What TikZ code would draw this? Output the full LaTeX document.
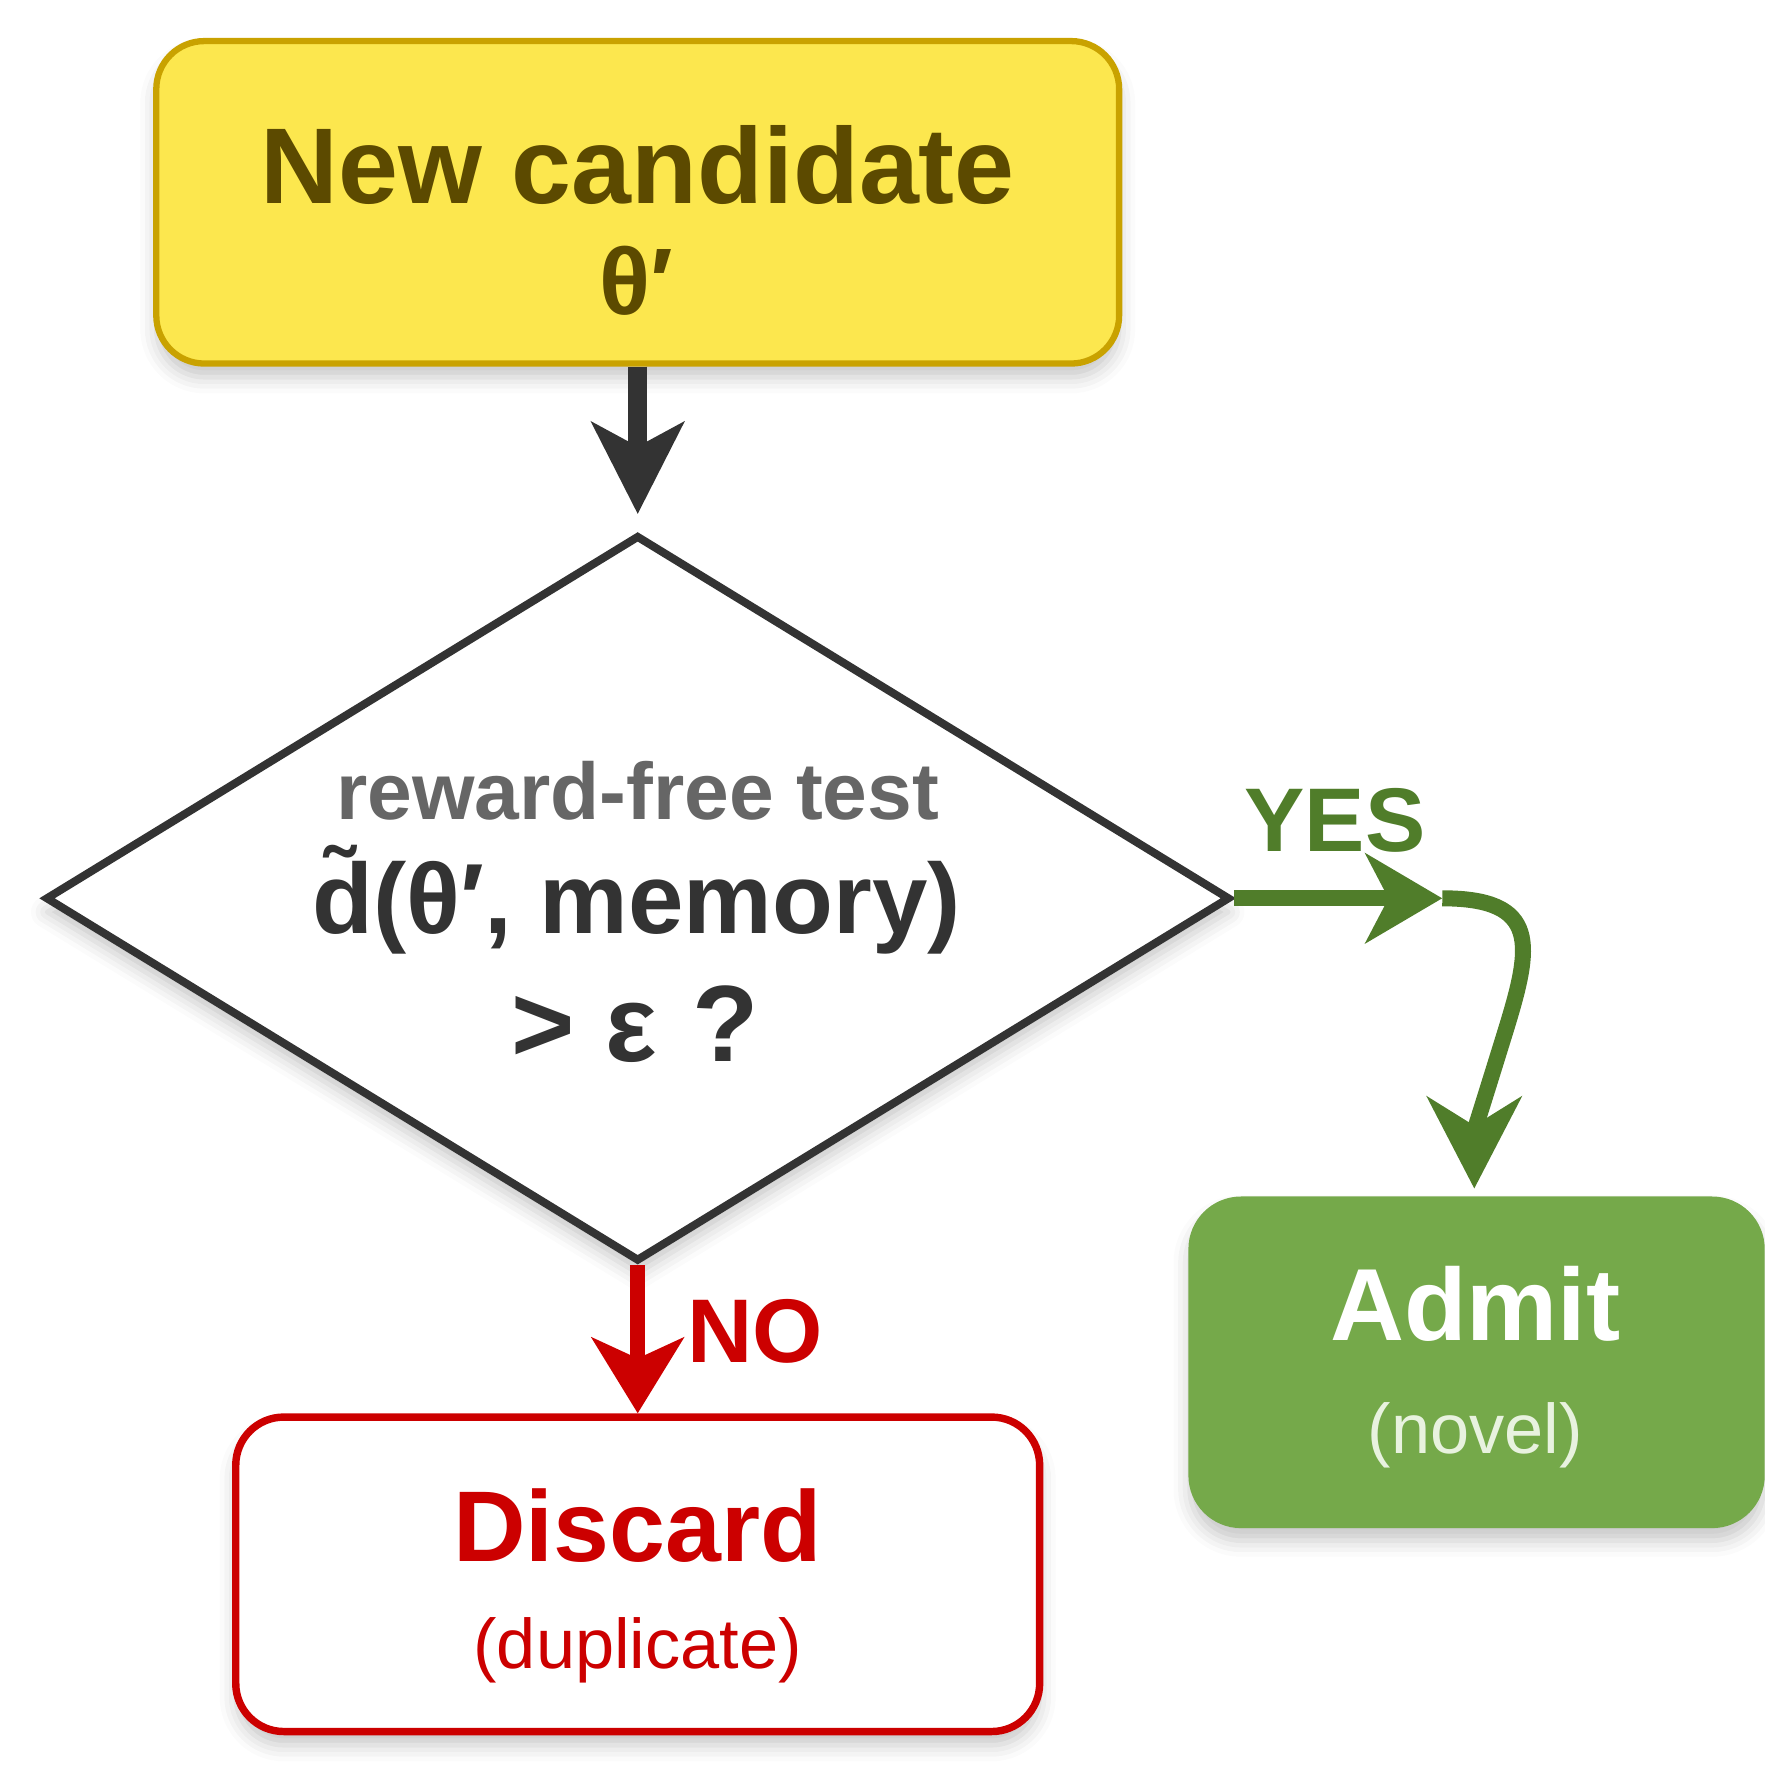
\documentclass[tikz,border=0pt]{standalone}
\usepackage{fontspec}
\setmainfont{Liberation Sans}
\usetikzlibrary{arrows.meta,shapes.geometric,shadows.blur}
\definecolor{candfill}{HTML}{FCE74E}
\definecolor{candline}{HTML}{C9A200}
\definecolor{candtext}{HTML}{5C4A00}
\definecolor{dgray}{HTML}{333333}
\definecolor{mgray}{HTML}{666666}
\definecolor{gline}{HTML}{507D2A}
\definecolor{gfill}{HTML}{75A94A}
\definecolor{gpale}{HTML}{E8F2DF}
\definecolor{rred}{HTML}{CC0000}
\begin{document}
\begin{tikzpicture}[x=0.01cm,y=-0.01cm,
  softshadow/.style={blur shadow={shadow xshift=0cm, shadow yshift=-0.12cm, shadow blur radius=0.14cm, shadow opacity=22}},
  boxbase/.style={rectangle, rounded corners=0.42cm, inner sep=0pt, softshadow},
  lbl/.style={inner sep=0pt, anchor=base},
  big/.style={font=\fontsize{26.8}{32}\selectfont\bfseries},
  small/.style={font=\fontsize{17.5}{21}\selectfont}
]
\useasboundingbox (0,0) rectangle (1544,1568);

% nodes
\node[boxbase, draw=candline, fill=candfill, line width=0.055cm,
      minimum width=8.42cm, minimum height=2.82cm] (cand) at (558,177) {};
\node[lbl, big, text=candtext] (candA) at (558,178) {New candidate};
\node[lbl, text=candtext, font=\fontsize{23.5}{28}\selectfont\bfseries] (candB) at (557,275) {θ′};

\node[diamond, draw=dgray, fill=white, line width=0.07cm, inner sep=0pt,
      minimum width=10.36cm, minimum height=6.35cm, softshadow] (test) at (558,786) {};
\node[lbl, text=mgray, font=\fontsize{20}{24}\selectfont\bfseries] (testA) at (558,717) {reward-free test};
\node[lbl, text=dgray, font=\fontsize{24.8}{30}\selectfont\bfseries] (testB) at (557,817) {d̃(θ′, memory)};
\node[lbl, text=dgray, font=\fontsize{27}{30}\selectfont\bfseries] (testC) at (556,929) {> ε\hspace{0.05cm} ?};

\node[boxbase, draw=rred, fill=white, line width=0.065cm,
      minimum width=7.03cm, minimum height=2.75cm] (disc) at (558,1377.5) {};
\node[lbl, text=rred, font=\fontsize{25}{30}\selectfont\bfseries] (discA) at (558,1366) {Discard};
\node[lbl, small, text=rred] (discB) at (558,1460) {(duplicate)};

\node[boxbase, draw=gfill, fill=gfill, line width=0.02cm, rounded corners=0.45cm,
      minimum width=5.02cm, minimum height=2.88cm] (adm) at (1292,1192) {};
\node[lbl, text=white, font=\fontsize{25.5}{30}\selectfont\bfseries] (admA) at (1291,1173) {Admit};
\node[lbl, small, text=gpale] (admB) at (1291,1272) {(novel)};

\node[lbl, text=gline, font=\fontsize{22.5}{27}\selectfont\bfseries] (yes) at (1168,745) {YES};
\node[lbl, text=rred, font=\fontsize{22.5}{27}\selectfont\bfseries] (no) at (661,1192) {NO};

% connectors
\draw[dgray, line width=0.17cm, shorten >=0.15cm,
      -{Stealth[length=0.80cm, width=0.80cm, inset=0.21cm]}]
  (cand.south) -- (test.north);

\draw[rred, line width=0.13cm,
      -{Stealth[length=0.66cm, width=0.80cm, inset=0.18cm]}]
  (test.south) -- (disc.north);

\coordinate (ybend) at (1262,786);
\coordinate (yend) at (1290,1040);
\draw[gline, line width=0.14cm,
      -{Stealth[length=0.67cm, width=0.78cm, inset=0.20cm]}]
  (test.east) -- (ybend);
\draw[gline, line width=0.14cm,
      -{Stealth[length=0.80cm, width=0.82cm, inset=0.25cm]}]
  (ybend) .. controls (1348,786) and (1340,828) .. (1318,900)
          .. controls (1305,942) and (1290,990) .. (yend);
\end{tikzpicture}
\end{document}
